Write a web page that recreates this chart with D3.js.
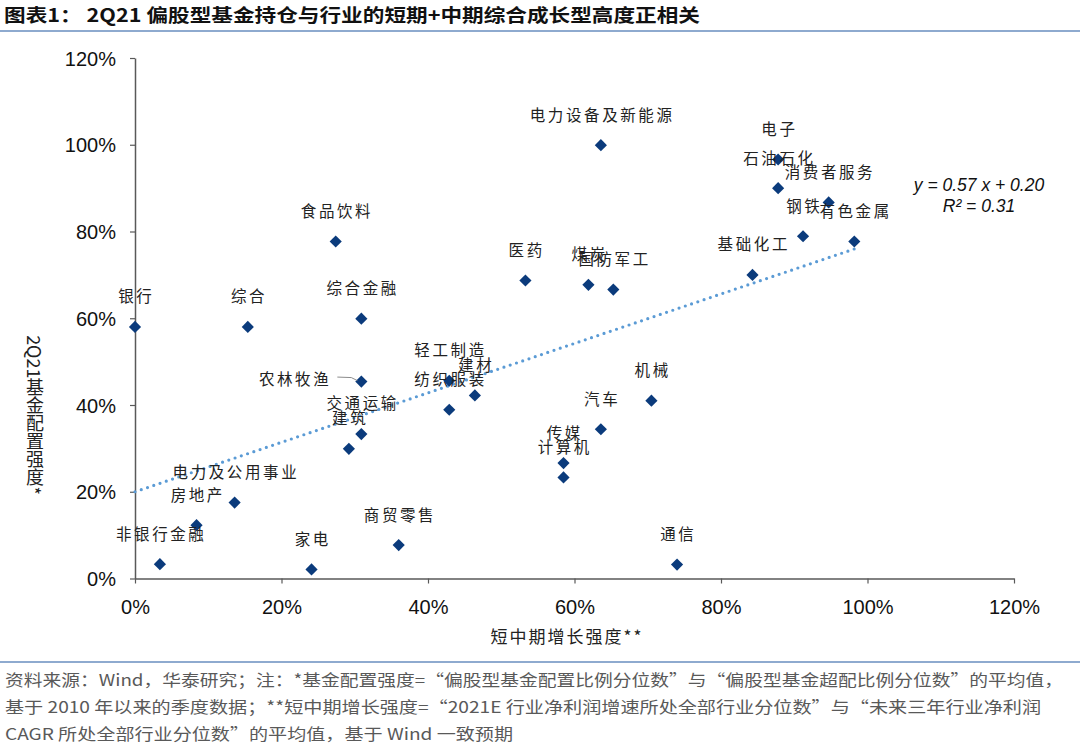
<!DOCTYPE html>
<html><head><meta charset="utf-8">
<script src="https://cdn.jsdelivr.net/npm/d3@7"></script>
<style>
html,body{margin:0;padding:0;background:#fff;}
svg{display:block;}
</style></head>
<body>
<svg id="chart" width="1080" height="748"></svg>
<script>
// ---------- data ----------
const industries = ["银行","综合","食品饮料","综合金融","农林牧渔","交通运输","建筑","轻工制造","纺织服装","建材",
  "汽车","传媒","计算机","机械","电力设备及新能源","医药","煤炭","国防军工","基础化工","电子",
  "石油石化","消费者服务","钢铁","有色金属","电力及公用事业","房地产","非银行金融","家电","商贸零售","通信"];
const growthStrength = [0.000,0.154,0.274,0.309,0.309,0.309,0.292,0.429,0.429,0.464,
  0.636,0.585,0.585,0.705,0.636,0.533,0.619,0.653,0.843,0.878,
  0.878,0.947,0.912,0.982,0.136,0.084,0.034,0.241,0.360,0.740];
const allocationStrength = [0.580,0.580,0.777,0.599,0.454,0.333,0.299,0.456,0.389,0.422,
  0.344,0.266,0.233,0.410,0.999,0.687,0.677,0.666,0.700,0.966,
  0.900,0.867,0.789,0.777,0.175,0.123,0.033,0.021,0.077,0.032];
const xTickValues = [0,0.2,0.4,0.6,0.8,1.0,1.2];
const yTickValues = [0,0.2,0.4,0.6,0.8,1.0,1.2];
const trendSlope = 0.57, trendIntercept = 0.20, trendR2 = 0.31;
const titleText = "图表1：  2Q21 偏股型基金持仓与行业的短期+中期综合成长型高度正相关";
const xAxisTitle = "短中期增长强度**";
const yAxisTitle = "2Q21基金配置强度*";
const footerLines = [
  "资料来源：Wind，华泰研究；注：*基金配置强度=“偏股型基金配置比例分位数”与“偏股型基金超配比例分位数”的平均值，",
  "基于 2010 年以来的季度数据；**短中期增长强度=“2021E 行业净利润增速所处全部行业分位数”与“未来三年行业净利润",
  "CAGR 所处全部行业分位数”的平均值，基于 Wind 一致预期"
];

// ---------- layout ----------
const leaderLabelSet = new Set(["农林牧渔"]);
const plot = {left:135, right:1014, top:58, bottom:578.5};
const footerWidths = [1058, 1036, 508];

const svg = d3.select("#chart");
const cjk = "'Noto Sans CJK SC','Noto Sans',sans-serif";
const latin = "'Liberation Sans',Arial,sans-serif";

const x = d3.scaleLinear().domain([0,1.2]).range([plot.left, plot.right]);
const y = d3.scaleLinear().domain([0,1.2]).range([plot.bottom, plot.top]);

// title
svg.append("text").attr("x",4).attr("y",22)
  .attr("font-family",cjk).attr("font-weight","bold").attr("font-size",18.5)
  .attr("fill","#111").attr("textLength",696).attr("lengthAdjust","spacingAndGlyphs")
  .text(titleText);
svg.append("line").attr("x1",0).attr("x2",1080).attr("y1",31).attr("y2",31)
  .attr("stroke","#8eaacf").attr("stroke-width",2);

// footer
svg.append("line").attr("x1",0).attr("x2",1080).attr("y1",662).attr("y2",662)
  .attr("stroke","#8eaacf").attr("stroke-width",2);
footerLines.forEach((t,i)=>{
  svg.append("text").attr("x",5).attr("y",686+i*27)
    .attr("font-family",cjk).attr("font-size",16).attr("fill","#595959")
    .attr("textLength",footerWidths[i]).attr("lengthAdjust","spacingAndGlyphs")
    .text(t);
});

// axes
const fmt = d3.format(".0%");
const xAxis = svg.append("g").attr("transform",`translate(0,${plot.bottom})`)
  .call(d3.axisBottom(x).tickValues(xTickValues).tickFormat(fmt).tickSizeInner(5).tickSizeOuter(0).tickPadding(12));
const yAxis = svg.append("g").attr("transform",`translate(${plot.left},0)`)
  .call(d3.axisLeft(y).tickValues(yTickValues).tickFormat(fmt).tickSizeInner(5).tickSizeOuter(0).tickPadding(14));
[xAxis,yAxis].forEach(g=>{
  g.select(".domain").attr("stroke","#595959").attr("stroke-width",1.5);
  g.selectAll(".tick line").attr("stroke","#595959").attr("stroke-width",1.2);
  g.selectAll(".tick text").attr("font-family",latin).attr("font-size",20).attr("fill","#111");
});
xAxis.selectAll(".tick text").attr("dy","0.9em");
yAxis.selectAll(".tick text").attr("dy","0.36em");

// axis titles
svg.append("text").attr("x",567).attr("y",643).attr("text-anchor","middle")
  .attr("font-family",cjk).attr("font-size",17).attr("letter-spacing",2).attr("fill","#222")
  .text(xAxisTitle);
svg.append("text").attr("x",35).attr("y",415).attr("text-anchor","middle")
  .attr("font-family",cjk).attr("font-size",18).attr("fill","#222")
  .style("writing-mode","vertical-rl").style("text-orientation","mixed")
  .text(yAxisTitle);

// trend line
const xMax = d3.max(growthStrength);
const trendData = [0, xMax].map(v=>[v, trendSlope*v+trendIntercept]);
svg.append("path").datum(trendData)
  .attr("d", d3.line().x(d=>x(d[0])).y(d=>y(d[1])))
  .attr("fill","none").attr("stroke","#5b9bd5").attr("stroke-width",3.2)
  .attr("stroke-linecap","round").attr("stroke-dasharray","0 6.6");

// points
const pts = industries.map((n,i)=>({name:n, gx:growthStrength[i], ay:allocationStrength[i]}));
const sym = d3.symbol().type(d3.symbolSquare).size(74);
svg.append("g").selectAll("path").data(pts).join("path")
  .attr("d", sym)
  .attr("transform", d=>`translate(${x(d.gx)},${y(d.ay)}) rotate(45)`)
  .attr("fill","#0b3b7c");

// labels
const lab = svg.append("g").attr("font-family",cjk).attr("font-size",15.5)
  .attr("fill","#222").attr("letter-spacing",2.6);
pts.forEach(d=>{
  const px = x(d.gx), py = y(d.ay);
  if (leaderLabelSet.has(d.name)) {
    lab.append("text").attr("x",px-30).attr("y",py-2).attr("dy","0.35em")
      .attr("text-anchor","end").text(d.name);
    svg.append("path").attr("d",`M${px-24},${py-4.5} L${px-10},${py-4} L${px-4},${py-1}`)
      .attr("fill","none").attr("stroke","#8c8c8c").attr("stroke-width",1);
  } else {
    lab.append("text").attr("x",px+1.3).attr("y",py-30).attr("dy","0.35em")
      .attr("text-anchor","middle").text(d.name);
  }
});

// equation
const eq = svg.append("g").attr("font-family",latin).attr("font-style","italic")
  .attr("font-size",17.5).attr("fill","#111").attr("text-anchor","middle");
eq.append("text").attr("x",979).attr("y",191).text(`y = ${trendSlope.toFixed(2)} x + ${trendIntercept.toFixed(2)}`);
eq.append("text").attr("x",979).attr("y",212).text(`R² = ${trendR2.toFixed(2)}`);
</script>
</body></html>
